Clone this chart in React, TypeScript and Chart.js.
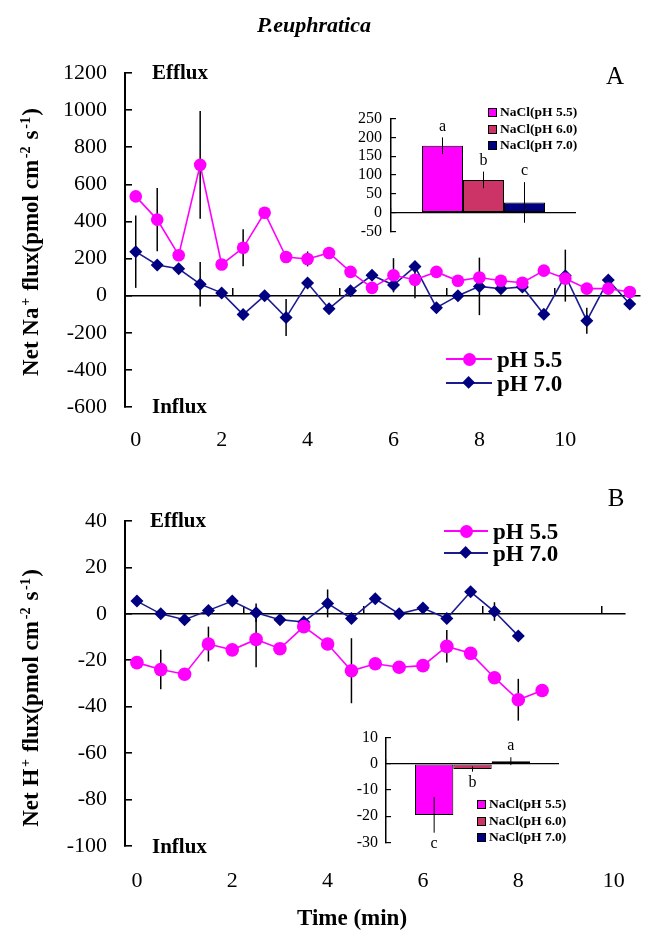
import React, { useEffect, useRef } from "react";
import { Chart, registerables } from "chart.js";
Chart.register(...registerables);

const SERIF = "'Liberation Serif', 'Times New Roman', serif";
const MAGENTA = "#ff00ff";
const NAVY = "#000080";
const NAVY_LINE = "#1c1c90";

// ---------- Panel A : Net Na+ flux ----------
const naTime = [0, 0.5, 1, 1.5, 2, 2.5, 3, 3.5, 4, 4.5, 5, 5.5, 6, 6.5, 7, 7.5, 8, 8.5, 9, 9.5, 10, 10.5, 11, 11.5];
const naPH55 = [535, 410, 218, 705, 168, 258, 447, 208, 198, 230, 128, 42, 110, 86, 128, 80, 98, 80, 70, 135, 92, 38, 38, 20];
const naPH70 = [237, 165, 145, 62, 15, -102, 0, -118, 68, -70, 26, 110, 57, 157, -65, 0, 50, 37, 47, -100, 108, -135, 84, -45];
const naErr55 = [null, 170, null, 290, null, 100, null, null, 40, null, null, null, 92, 100, null, null, null, null, null, null, null, null, 30, null];
const naErr70 = [195, null, null, 120, null, null, null, 100, null, null, null, null, null, null, null, null, 155, null, null, null, 140, 70, null, null];

// ---------- Panel B : Net H+ flux ----------
const hTime55 = [0, 0.5, 1, 1.5, 2, 2.5, 3, 3.5, 4, 4.5, 5, 5.5, 6, 6.5, 7, 7.5, 8, 8.5];
const hPH55 = [-21, -24, -26, -13, -15.5, -11, -15, -5.5, -13, -24.5, -21.5, -23, -22.3, -14, -17, -27.5, -37, -33];
const hErr55 = [null, 8.5, null, 7.5, null, 12, null, null, null, 14, null, null, null, 7, null, null, 9, null];
const hTime70 = [0, 0.5, 1, 1.5, 2, 2.5, 3, 3.5, 4, 4.5, 5, 5.5, 6, 6.5, 7, 7.5, 8];
const hPH70 = [5.5, 0, -2.5, 1.5, 5.5, 0.5, -2.5, -3.5, 4.5, -2, 6.5, 0, 2.5, -2, 9.5, 1, -9.5];
const hErr70 = [null, null, null, null, null, 4, null, null, 6, null, null, null, null, null, null, 4, null];

// ---------- Insets ----------
const insetLabels = ["NaCl(pH 5.5)", "NaCl(pH 6.0)", "NaCl(pH 7.0)"];
const barColors = ["#ff00ff", "#cc3366", "#000080"];
const naBars = [178, 87, 27];
const naBarErr = [22, 22, 54];
const naBarSig = ["a", "b", "c"];
const hBars = [-19.5, -2, 1];
const hBarErr = [6.8, 1, 1.5];
const hBarSig = ["c", "b", "a"];

// ---------- Axis ticks ----------
const timeLabelTicks = [0, 2, 4, 6, 8, 10];
const zeroLineTicks = [2.25, 4.75, 7.25, 9.75];

const lineErrorBars = (errs: (number | null)[][]) => ({
  id: "lineErrorBars",
  beforeDatasetsDraw(chart: any) {
    const ctx = chart.ctx;
    const ys = chart.scales.y;
    chart.data.datasets.forEach((ds: any, di: number) => {
      const e = errs[di];
      const meta = chart.getDatasetMeta(di);
      meta.data.forEach((el: any, i: number) => {
        const err = e[i];
        if (err == null) return;
        const v = ds.data[i].y;
        ctx.save();
        ctx.strokeStyle = "#000";
        ctx.lineWidth = 1.5;
        ctx.beginPath();
        ctx.moveTo(el.x, ys.getPixelForValue(v + err));
        ctx.lineTo(el.x, ys.getPixelForValue(v - err));
        ctx.stroke();
        ctx.restore();
      });
    });
  },
});

const barErrorBars = (errs: number[], sig: string[]) => ({
  id: "barErrorBars",
  afterDatasetsDraw(chart: any) {
    const ctx = chart.ctx;
    const ys = chart.scales.y;
    chart.data.datasets.forEach((ds: any, di: number) => {
      const el = chart.getDatasetMeta(di).data[0];
      const v = ds.data[0];
      const err = errs[di];
      const yTop = ys.getPixelForValue(v + err);
      const yBot = ys.getPixelForValue(v - err);
      ctx.save();
      ctx.strokeStyle = "#000";
      ctx.lineWidth = 1;
      ctx.beginPath();
      ctx.moveTo(el.x, yTop);
      ctx.lineTo(el.x, yBot);
      ctx.stroke();
      ctx.fillStyle = "#000";
      ctx.font = `16px ${SERIF}`;
      ctx.textAlign = "center";
      ctx.textBaseline = "middle";
      const ly = v >= 0 ? yTop - 11 : yBot + 11;
      ctx.fillText(sig[di], el.x, ly);
      ctx.restore();
    });
  },
});

function lineConfig(opts: {
  series: { label: string; t: number[]; v: number[]; style: string; color: string; line: string; r: number }[];
  errs: (number | null)[][];
  xmin: number;
  xmax: number;
  ymin: number;
  ymax: number;
  step: number;
  padding: any;
  labelPad: number;
}) {
  const font = { family: SERIF, size: 22 };
  return {
    type: "line",
    data: {
      datasets: opts.series.map((s) => ({
        label: s.label,
        data: s.t.map((t, i) => ({ x: t, y: s.v[i] })),
        borderColor: s.line,
        backgroundColor: s.color,
        pointBackgroundColor: s.color,
        pointBorderColor: s.color,
        pointStyle: s.style,
        pointRadius: s.r,
        pointBorderWidth: 0,
        borderWidth: 1.6,
        tension: 0,
        xAxisID: "x",
        yAxisID: "y",
      })),
    },
    options: {
      animation: false,
      responsive: false,
      maintainAspectRatio: false,
      events: [],
      layout: { padding: opts.padding },
      plugins: { legend: { display: false }, tooltip: { enabled: false }, title: { display: false } },
      scales: {
        x: {
          type: "linear",
          axis: "x",
          position: "bottom",
          min: opts.xmin,
          max: opts.xmax,
          border: { display: false },
          grid: { display: false, drawTicks: false },
          afterBuildTicks: (s: any) => {
            s.ticks = timeLabelTicks.map((v) => ({ value: v }));
          },
          afterFit: (s: any) => {
            s.height = 56;
          },
          ticks: { color: "#000", font, padding: opts.labelPad, maxRotation: 0, autoSkip: false, callback: (v: any) => String(v) },
        },
        xz: {
          type: "linear",
          axis: "x",
          position: { y: 0 },
          min: opts.xmin,
          max: opts.xmax,
          border: { display: false },
          grid: { drawOnChartArea: false, drawTicks: true, tickLength: -8, color: "#000", lineWidth: 1.5 },
          ticks: { display: false },
          afterBuildTicks: (s: any) => {
            s.ticks = zeroLineTicks.map((v) => ({ value: v }));
          },
        },
        y: {
          type: "linear",
          position: "left",
          min: opts.ymin,
          max: opts.ymax,
          border: { display: true, color: "#000", width: 2 },
          grid: {
            drawOnChartArea: true,
            color: (c: any) => (c.tick && c.tick.value === 0 ? "#000" : "rgba(0,0,0,0)"),
            lineWidth: 1.6,
            tickColor: "#000",
            tickWidth: 1.6,
            tickLength: -7,
          },
          ticks: { stepSize: opts.step, color: "#000", font, padding: 25, autoSkip: false, callback: (v: any) => String(v) },
          afterFit: (s: any) => {
            s.width = 125;
          },
        },
      },
    },
    plugins: [lineErrorBars(opts.errs)],
  } as any;
}

function barConfig(opts: { values: number[]; errs: number[]; sig: string[]; ymin: number; ymax: number; step: number; padding: any; yWidth: number; labelPad: number }) {
  const font = { family: SERIF, size: 16 };
  return {
    type: "bar",
    data: {
      labels: ["NaCl"],
      datasets: insetLabels.map((l, i) => ({
        label: l,
        data: [opts.values[i]],
        backgroundColor: barColors[i],
        borderColor: "#000",
        borderWidth: 1,
        borderSkipped: false,
        categoryPercentage: 0.665,
        barPercentage: 1,
        xAxisID: "x",
        yAxisID: "y",
      })),
    },
    options: {
      animation: false,
      responsive: false,
      maintainAspectRatio: false,
      events: [],
      layout: { padding: opts.padding },
      plugins: { legend: { display: false }, tooltip: { enabled: false } },
      scales: {
        x: { type: "category", display: false },
        xz: {
          type: "linear",
          axis: "x",
          position: { y: 0 },
          min: 0,
          max: 1,
          border: { display: false },
          grid: { drawOnChartArea: false, drawTicks: true, tickLength: -5, color: "#000", lineWidth: 1.2 },
          ticks: { display: false },
          afterBuildTicks: (s: any) => {
            s.ticks = [{ value: 1 }];
          },
        },
        y: {
          type: "linear",
          position: "left",
          min: opts.ymin,
          max: opts.ymax,
          border: { display: true, color: "#000", width: 1.5 },
          grid: {
            drawOnChartArea: true,
            color: (c: any) => (c.tick && c.tick.value === 0 ? "#000" : "rgba(0,0,0,0)"),
            lineWidth: 1.2,
            tickColor: "#000",
            tickWidth: 1.2,
            tickLength: -5,
          },
          ticks: { stepSize: opts.step, color: "#000", font, padding: opts.labelPad, autoSkip: false, callback: (v: any) => String(v) },
          afterFit: (s: any) => {
            s.width = opts.yWidth;
          },
        },
      },
    },
    plugins: [barErrorBars(opts.errs, opts.sig)],
  } as any;
}

const abs = (left: number, top: number, extra: any = {}): any => ({ position: "absolute", left, top, ...extra });

function Txt({ x, y, children, size = 20, bold = true, italic = false, align = "left" }: any) {
  const tx = align === "center" ? "-50%" : "0";
  return (
    <div
      style={abs(x, y, {
        transform: `translate(${tx}, -50%)`,
        fontFamily: SERIF,
        fontSize: size,
        fontWeight: bold ? "bold" : "normal",
        fontStyle: italic ? "italic" : "normal",
        whiteSpace: "nowrap",
        lineHeight: 1,
        color: "#000",
      })}
    >
      {children}
    </div>
  );
}

const supStyle = { fontSize: "0.62em", marginLeft: "0.12em", marginRight: "0.08em" };

function YTitle({ x, y, ion }: { x: number; y: number; ion: string }) {
  return (
    <div
      style={abs(x, y, {
        transform: "translate(-50%, -50%) rotate(-90deg)",
        fontFamily: SERIF,
        fontSize: 23,
        fontWeight: "bold",
        whiteSpace: "nowrap",
        lineHeight: 1,
      })}
    >
      Net {ion}
      <sup style={supStyle}>+</sup> flux(pmol cm<sup style={supStyle}>-2</sup> s<sup style={supStyle}>-1</sup>)
    </div>
  );
}

function LineLegend({ x1, x2, y, gap, labels }: { x1: number; x2: number; y: number[]; gap: number; labels: string[] }) {
  const mid = (x1 + x2) / 2;
  return (
    <>
      {labels.map((l, i) => (
        <React.Fragment key={l}>
          <div style={abs(x1, y[i] - 0.8, { width: x2 - x1, height: 1.6, background: i === 0 ? MAGENTA : NAVY_LINE })} />
          {i === 0 ? (
            <div style={abs(mid - 6.5, y[i] - 6.5, { width: 13, height: 13, borderRadius: "50%", background: MAGENTA })} />
          ) : (
            <div style={abs(mid - 4.6, y[i] - 4.6, { width: 9.2, height: 9.2, background: NAVY, transform: "rotate(45deg)" })} />
          )}
          <Txt x={x2 + gap} y={y[i]} size={23}>
            {l}
          </Txt>
        </React.Fragment>
      ))}
    </>
  );
}

function BoxLegend({ x, y }: { x: number; y: number[] }) {
  return (
    <>
      {insetLabels.map((l, i) => (
        <React.Fragment key={l}>
          <div style={abs(x, y[i] - 4, { width: 7, height: 7, background: barColors[i], border: "1px solid #000" })} />
          <Txt x={x + 12} y={y[i]} size={13.5}>
            {l}
          </Txt>
        </React.Fragment>
      ))}
    </>
  );
}

export default function App() {
  const aRef = useRef<HTMLCanvasElement>(null);
  const bRef = useRef<HTMLCanvasElement>(null);
  const iaRef = useRef<HTMLCanvasElement>(null);
  const ibRef = useRef<HTMLCanvasElement>(null);

  useEffect(() => {
    const charts: Chart[] = [];
    charts.push(
      new Chart(
        aRef.current!,
        lineConfig({
          series: [
            { label: "pH 5.5", t: naTime, v: naPH55, style: "circle", color: MAGENTA, line: MAGENTA, r: 6.3 },
            { label: "pH 7.0", t: naTime, v: naPH70, style: "rectRot", color: NAVY, line: NAVY_LINE, r: 6.5 },
          ],
          errs: [naErr55, naErr70],
          xmin: -0.25,
          xmax: 11.75,
          ymin: -600,
          ymax: 1200,
          step: 200,
          padding: { left: 0, top: 73, right: 2, bottom: 7 },
          labelPad: 20,
        })
      )
    );
    charts.push(
      new Chart(
        bRef.current!,
        lineConfig({
          series: [
            { label: "pH 5.5", t: hTime55, v: hPH55, style: "circle", color: MAGENTA, line: MAGENTA, r: 6.8 },
            { label: "pH 7.0", t: hTime70, v: hPH70, style: "rectRot", color: NAVY, line: NAVY_LINE, r: 6.5 },
          ],
          errs: [hErr55, hErr70],
          xmin: -0.25,
          xmax: 10.25,
          ymin: -100,
          ymax: 40,
          step: 20,
          padding: { left: 0, top: 51, right: 15, bottom: 33 },
          labelPad: 22,
        })
      )
    );
    charts.push(
      new Chart(
        iaRef.current!,
        barConfig({
          values: naBars,
          errs: naBarErr,
          sig: naBarSig,
          ymin: -50,
          ymax: 250,
          step: 50,
          padding: { left: 0, top: 15, right: 14, bottom: 12 },
          yWidth: 71,
          labelPad: 14,
        })
      )
    );
    charts.push(
      new Chart(
        ibRef.current!,
        barConfig({
          values: hBars,
          errs: hBarErr,
          sig: hBarSig,
          ymin: -30,
          ymax: 10,
          step: 10,
          padding: { left: 0, top: 18, right: 21, bottom: 15 },
          yWidth: 66,
          labelPad: 13,
        })
      )
    );
    return () => charts.forEach((c) => c.destroy());
  }, []);

  return (
    <div style={abs(0, 0, { width: 647, height: 935, background: "#fff", overflow: "hidden", fontFamily: SERIF })}>
      <canvas ref={aRef} width={647} height={470} style={abs(0, 0, { width: 647, height: 470 })} />
      <canvas ref={bRef} width={647} height={465} style={abs(0, 470, { width: 647, height: 465 })} />
      <canvas ref={iaRef} width={270} height={160} style={abs(320, 95, { width: 270, height: 160 })} />
      <canvas ref={ibRef} width={260} height={150} style={abs(320, 715, { width: 260, height: 150 })} />

      <Txt x={314} y={25} size={22} italic align="center">
        P.euphratica
      </Txt>

      {/* Panel A annotations */}
      <Txt x={152} y={72} size={21}>Efflux</Txt>
      <Txt x={152} y={406} size={21}>Influx</Txt>
      <Txt x={615} y={75} size={25} bold={false} align="center">A</Txt>
      <YTitle x={30} y={242} ion="Na" />
      <LineLegend x1={446} x2={492} y={[359, 383]} gap={5} labels={["pH 5.5", "pH 7.0"]} />
      <BoxLegend x={488} y={[112, 129, 145]} />

      {/* Panel B annotations */}
      <Txt x={150} y={520} size={21}>Efflux</Txt>
      <Txt x={152} y={846} size={21}>Influx</Txt>
      <Txt x={616} y={497} size={25} bold={false} align="center">B</Txt>
      <YTitle x={30} y={698} ion="H" />
      <LineLegend x1={444} x2={488} y={[531, 553]} gap={5} labels={["pH 5.5", "pH 7.0"]} />
      <BoxLegend x={477} y={[804, 821, 837]} />

      <Txt x={352} y={917} size={23} align="center">Time (min)</Txt>
    </div>
  );
}
